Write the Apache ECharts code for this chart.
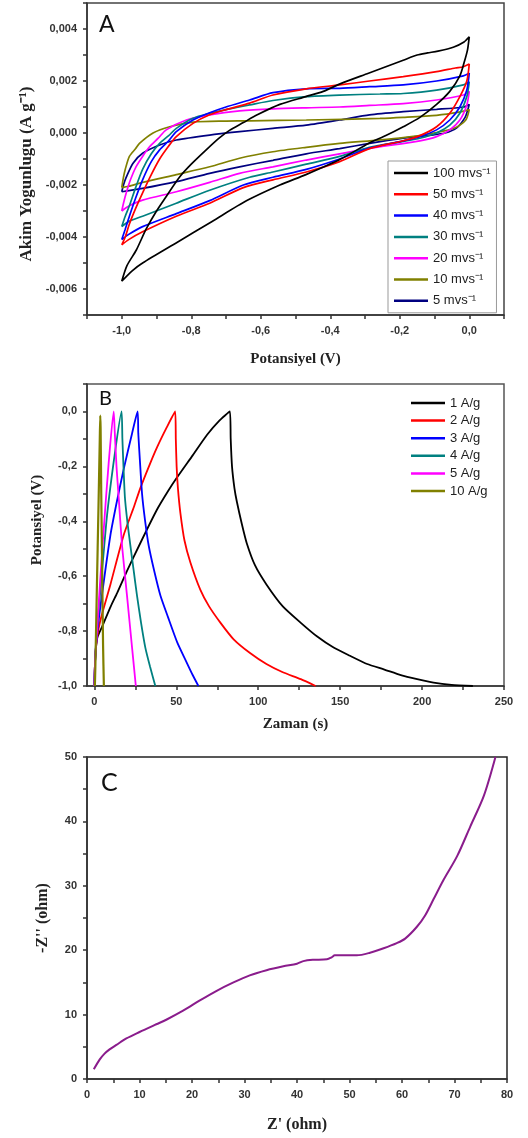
<!DOCTYPE html>
<html><head><meta charset="utf-8">
<script src="https://cdn.jsdelivr.net/npm/echarts@6/dist/echarts.min.js"></script>
<style>html,body{margin:0;padding:0;background:#fff}#c{width:528px;height:1138px}</style>
</head><body><div id="c"></div>
<script>
// ---------- Panel A : cyclic voltammetry loops [potential V, current A/g] ----------
const cvLabels = ['100 mvs\u207B\u00B9','50 mvs\u207B\u00B9','40 mvs\u207B\u00B9','30 mvs\u207B\u00B9','20 mvs\u207B\u00B9','10 mvs\u207B\u00B9','5 mvs\u207B\u00B9'];
const cv100 = [[-1.0,-0.0057],[-0.985,-0.0051],[-0.958,-0.0045],[-0.93,-0.0037],[-0.90,-0.0030],[-0.87,-0.0024],[-0.834,-0.0017],[-0.80,-0.0012],[-0.757,-0.00065],[-0.72,-0.0002],[-0.69,0.0001],[-0.65,0.0004],[-0.61,0.0007],[-0.545,0.0011],[-0.47,0.0014],[-0.42,0.0016],[-0.37,0.0019],[-0.29,0.0023],[-0.24,0.00255],[-0.19,0.0028],[-0.15,0.0030],[-0.12,0.00308],[-0.09,0.00315],[-0.046,0.0033],[-0.015,0.0035],[0.0,0.0037],
  [-0.005,0.0032],[-0.015,0.0027],[-0.027,0.0022],[-0.056,0.0016],[-0.094,0.0011],[-0.142,0.0006],[-0.19,0.00024],[-0.24,-0.0001],[-0.29,-0.0004],[-0.37,-0.001],[-0.47,-0.0016],[-0.545,-0.0020],[-0.64,-0.0026],[-0.74,-0.0034],[-0.84,-0.0042],[-0.94,-0.0050],[-0.97,-0.0053],[-1.0,-0.0057]];
const cv50 = [[-1.0,-0.0043],[-0.99,-0.0040],[-0.978,-0.0035],[-0.96,-0.0029],[-0.94,-0.0023],[-0.915,-0.0016],[-0.891,-0.0010],[-0.865,-0.0005],[-0.843,-0.00014],[-0.795,0.00037],[-0.747,0.0007],[-0.70,0.0009],[-0.632,0.00115],[-0.565,0.00146],[-0.469,0.0017],[-0.373,0.00185],[-0.287,0.002],[-0.19,0.00217],[-0.094,0.00236],[-0.04,0.0025],[-0.017,0.00255],[0.0,0.00265],
  [-0.007,0.002],[-0.027,0.0014],[-0.056,0.00076],[-0.094,0.00024],[-0.142,-0.0001],[-0.19,-0.0003],[-0.287,-0.0006],[-0.373,-0.0011],[-0.469,-0.0015],[-0.565,-0.0018],[-0.65,-0.0021],[-0.747,-0.0027],[-0.843,-0.0032],[-0.94,-0.0038],[-0.98,-0.0041],[-1.0,-0.0043]];
const cv40 = [[-1.0,-0.0041],[-0.99,-0.0037],[-0.978,-0.0032],[-0.96,-0.0025],[-0.94,-0.0018],[-0.915,-0.0011],[-0.891,-0.00065],[-0.865,-0.0003],[-0.843,0.00005],[-0.795,0.0005],[-0.747,0.00078],[-0.70,0.001],[-0.632,0.00127],[-0.565,0.00155],[-0.469,0.0017],[-0.373,0.00172],[-0.287,0.00178],[-0.19,0.00185],[-0.094,0.002],[-0.017,0.0022],[0.0,0.0023],
  [-0.007,0.00165],[-0.027,0.001],[-0.056,0.0005],[-0.094,0.00012],[-0.142,-0.00014],[-0.19,-0.0003],[-0.287,-0.00058],[-0.373,-0.001],[-0.469,-0.0014],[-0.565,-0.0017],[-0.65,-0.002],[-0.747,-0.0026],[-0.843,-0.0031],[-0.94,-0.0036],[-0.98,-0.0039],[-1.0,-0.0041]];
const cv30 = [[-1.0,-0.0036],[-0.99,-0.0032],[-0.978,-0.0028],[-0.96,-0.0021],[-0.94,-0.0014],[-0.915,-0.0008],[-0.891,-0.0004],[-0.865,-0.0001],[-0.843,0.00018],[-0.795,0.00057],[-0.747,0.00076],[-0.70,0.0009],[-0.632,0.00108],[-0.565,0.00125],[-0.469,0.0014],[-0.373,0.00146],[-0.257,0.0015],[-0.19,0.00152],[-0.094,0.00165],[-0.017,0.00185],[0.0,0.00197],
  [-0.007,0.0014],[-0.027,0.00076],[-0.056,0.0003],[-0.094,0.0],[-0.142,-0.0002],[-0.19,-0.00032],[-0.287,-0.00055],[-0.373,-0.0009],[-0.469,-0.0012],[-0.565,-0.0015],[-0.632,-0.0017],[-0.747,-0.0022],[-0.843,-0.0027],[-0.94,-0.0032],[-0.98,-0.0034],[-1.0,-0.0036]];
const cv20 = [[-1.0,-0.0030],[-0.995,-0.0027],[-0.987,-0.0023],[-0.975,-0.0018],[-0.959,-0.0013],[-0.94,-0.0009],[-0.92,-0.00053],[-0.895,-0.0002],[-0.872,0.00012],[-0.814,0.0005],[-0.747,0.0007],[-0.661,0.00085],[-0.565,0.00093],[-0.469,0.00097],[-0.373,0.001],[-0.287,0.00106],[-0.19,0.00113],[-0.094,0.00127],[-0.017,0.00146],[0.0,0.0016],
  [-0.007,0.00108],[-0.027,0.0005],[-0.056,0.00012],[-0.094,-0.00014],[-0.142,-0.0003],[-0.287,-0.00059],[-0.373,-0.0008],[-0.469,-0.00104],[-0.565,-0.0013],[-0.661,-0.00155],[-0.747,-0.0019],[-0.843,-0.00226],[-0.94,-0.00258],[-0.978,-0.0028],[-1.0,-0.0030]];
const cv10 = [[-1.0,-0.0021],[-0.995,-0.0017],[-0.99,-0.0014],[-0.978,-0.0009],[-0.96,-0.0006],[-0.949,-0.0004],[-0.91,0.0],[-0.862,0.00024],[-0.795,0.00042],[-0.70,0.00046],[-0.632,0.00047],[-0.469,0.0005],[-0.257,0.00056],[-0.19,0.0006],[-0.094,0.00068],[-0.03,0.0008],[0.0,0.0009],
  [-0.01,0.0005],[-0.04,0.0002],[-0.094,0.00002],[-0.19,-0.00018],[-0.287,-0.0003],[-0.373,-0.0004],[-0.469,-0.00055],[-0.565,-0.00072],[-0.661,-0.00097],[-0.747,-0.0013],[-0.843,-0.0016],[-0.94,-0.0019],[-0.98,-0.00205],[-1.0,-0.0021]];
const cv5 = [[-1.0,-0.00226],[-0.995,-0.002],[-0.987,-0.0017],[-0.968,-0.00117],[-0.94,-0.00078],[-0.891,-0.00046],[-0.843,-0.00027],[-0.747,-0.00008],[-0.661,0.00005],[-0.565,0.00018],[-0.469,0.0003],[-0.373,0.0005],[-0.287,0.0007],[-0.19,0.00082],[-0.094,0.00091],[-0.017,0.001],[0.0,0.0011],
  [-0.004,0.0009],[-0.012,0.0006],[-0.036,0.0002],[-0.07,0.0],[-0.11,-0.00008],[-0.19,-0.0002],[-0.287,-0.0004],[-0.373,-0.0006],[-0.469,-0.0008],[-0.565,-0.00105],[-0.661,-0.0013],[-0.747,-0.00155],[-0.843,-0.00187],[-0.94,-0.00213],[-1.0,-0.00226]];
const cvSeries = [cv100, cv50, cv40, cv30, cv20, cv10, cv5];

// ---------- Panel B : galvanostatic charge/discharge [time s, potential V] ----------
const gcdLabels = ['1 A/g','2 A/g','3 A/g','4 A/g','5 A/g','10 A/g'];
const gcd1 = [[0,-1.0],[0.3,-0.93],[1,-0.86],[2,-0.82],[5,-0.78],[10,-0.71],[14,-0.66],[20,-0.58],[28,-0.48],[38,-0.36],[45,-0.29],[50.5,-0.24],[60,-0.16],[68.8,-0.085],[76,-0.035],[82.7,0],[83.2,-0.1],[84,-0.2],[85.5,-0.28],[87,-0.33],[90,-0.41],[93,-0.48],[98,-0.56],[105,-0.63],[115,-0.71],[126,-0.77],[136,-0.82],[146,-0.86],[156,-0.89],[166.5,-0.92],[177,-0.94],[187,-0.96],[197,-0.975],[207,-0.988],[218,-0.996],[231,-1.0]];
const gcd2 = [[0,-1.0],[0.5,-0.9],[1.5,-0.83],[3.7,-0.76],[9.8,-0.63],[17.9,-0.45],[24,-0.35],[28,-0.28],[34,-0.19],[38.3,-0.13],[44,-0.06],[49.3,0],[49.7,-0.1],[50.2,-0.2],[51,-0.28],[52.5,-0.37],[55,-0.47],[58.6,-0.55],[64.7,-0.65],[70,-0.71],[77,-0.77],[85,-0.83],[95,-0.88],[105,-0.92],[115,-0.95],[126,-0.975],[135,-1.0]];
const gcd3 = [[0,-1.0],[0.5,-0.9],[1.5,-0.82],[3.7,-0.71],[9.8,-0.45],[14,-0.32],[17.9,-0.21],[23,-0.08],[26.4,0],[26.8,-0.08],[27.8,-0.18],[29.1,-0.3],[31,-0.4],[33.2,-0.49],[36.5,-0.58],[40.3,-0.67],[45,-0.75],[50.5,-0.84],[56,-0.91],[60,-0.96],[63.5,-1.0]];
const gcd4 = [[0,-1.0],[0.5,-0.9],[1.5,-0.8],[3.7,-0.65],[7.7,-0.38],[12.8,-0.14],[16.6,0],[17.1,-0.1],[18.6,-0.31],[20.1,-0.4],[22,-0.49],[24,-0.58],[26,-0.67],[28.5,-0.77],[31.1,-0.86],[34,-0.93],[37.2,-1.0]];
const gcd5 = [[0,-1.0],[0.5,-0.9],[1.6,-0.80],[3.5,-0.62],[5.7,-0.43],[8.7,-0.19],[11.8,0],[12.4,-0.07],[13.5,-0.2],[14.8,-0.31],[16.9,-0.49],[19.9,-0.67],[23,-0.86],[25.3,-1.0]];
const gcd10 = [[0.3,-1.0],[0.6,-0.93],[1.5,-0.65],[2.5,-0.35],[3.3,-0.1],[3.6,-0.015],[3.8,-0.06],[4.2,-0.3],[4.8,-0.6],[5.3,-0.85],[5.8,-1.0]];
const gcdSeries = [gcd1, gcd2, gcd3, gcd4, gcd5, gcd10];

// ---------- Panel C : Nyquist plot [Z' ohm, -Z'' ohm] ----------
const eis = [[1.3,1.5],[2.4,3.0],[3.3,3.9],[4.3,4.6],[5.6,5.3],[7.5,6.3],[10,7.3],[13.2,8.5],[15.1,9.2],[18.3,10.6],[21.5,12.2],[24.7,13.7],[27.9,15.0],[31,16.1],[34.2,16.9],[37.4,17.5],[40,17.9],[41.2,18.3],[43,18.5],[45.7,18.6],[46.6,18.9],[47.2,19.2],[51.4,19.2],[53.9,19.6],[56.5,20.3],[59,21.1],[60.6,21.8],[62.8,23.6],[64.4,25.4],[66,27.9],[67.9,30.9],[70.5,34.6],[73,39.2],[75.6,44.0],[77.8,50.0]];

// tick positions
const cvXTicks = [-1.1,-1.0,-0.9,-0.8,-0.7,-0.6,-0.5,-0.4,-0.3,-0.2,-0.1,0.0,0.1];
const cvXLabels = [-1.0,-0.8,-0.6,-0.4,-0.2,0.0];
const gcdXTicks = [0,25,50,75,100,125,150,175,200,225,250];
const gcdXLabels = [0,50,100,150,200,250];

// ---------- styles ----------
const cvColors = ['#000000','#ff0000','#0000ff','#008080','#ff00ff','#808000','#000080'];
const gcdColors = ['#000000','#ff0000','#0000ff','#008080','#ff00ff','#808000'];
const eisColor = '#8a1c8c';

const lblFont = {fontSize: 11, fontWeight: 'bold', fontFamily: 'Liberation Sans, Arial', color: '#333'};
const nameFont = {fontSize: 15, fontWeight: 'bold', fontFamily: 'Liberation Serif, Times New Roman, serif', color: '#222'};
const axLine = {show: true, onZero: false, lineStyle: {color: '#333', width: 1.5}};
const tick = {show: true, inside: false, length: 4, lineStyle: {color: '#333', width: 1.5}};
function comma(v, d){ return v.toFixed(d).replace('.', ','); }

const chart = echarts.init(document.getElementById('c'), null, {renderer: 'canvas'});

const series = [];
cvSeries.forEach((d, i) => series.push({
  name: cvLabels[i], type: 'line', xAxisIndex: 0, yAxisIndex: 0, data: d,
  symbol: 'none', showSymbol: false, smooth: 0.25, z: 10 - i,
  lineStyle: {color: cvColors[i], width: 1.7}, itemStyle: {color: cvColors[i]}
}));
gcdSeries.forEach((d, i) => series.push({
  name: gcdLabels[i], type: 'line', xAxisIndex: 1, yAxisIndex: 1, data: d,
  symbol: 'none', showSymbol: false, smooth: 0.2,
  lineStyle: {color: gcdColors[i], width: i === 5 ? 2.2 : 1.8}, itemStyle: {color: gcdColors[i]}
}));
series.push({
  name: 'EIS', type: 'line', xAxisIndex: 2, yAxisIndex: 2, data: eis,
  symbol: 'none', showSymbol: false, smooth: 0.3,
  lineStyle: {color: eisColor, width: 2}
});

const legendText = {fontSize: 13, lineHeight: 14, fontFamily: 'Liberation Sans, Arial', color: '#222'};

const option = {
  animation: false,
  backgroundColor: '#fff',
  grid: [
    {left: 87, top: 3, width: 417, height: 312, show: true, borderColor: '#444', borderWidth: 1.5},
    {left: 87, top: 384, width: 417, height: 302, show: true, borderColor: '#555', borderWidth: 1.5},
    {left: 87, top: 757, width: 420, height: 322, show: true, borderColor: '#222', borderWidth: 1.5}
  ],
  xAxis: [
    {gridIndex: 0, type: 'value', min: -1.1, max: 0.1, interval: 0.1,
     axisLine: axLine, axisTick: Object.assign({}, tick, {customValues: cvXTicks}), splitLine: {show: false},
     axisLabel: Object.assign({}, lblFont, {margin: 10, customValues: cvXLabels, formatter: v => { const k = Math.round(v * 10); return (k % 2) ? '' : comma(k / 10, 1); }}),
     name: 'Potansiyel (V)', nameLocation: 'middle', nameGap: 37, nameTextStyle: nameFont},
    {gridIndex: 1, type: 'value', min: -4.5, max: 250,
     axisLine: axLine, axisTick: Object.assign({}, tick, {customValues: gcdXTicks}), splitLine: {show: false},
     axisLabel: Object.assign({}, lblFont, {margin: 10, customValues: gcdXLabels, formatter: v => String(Math.round(v))}),
     name: 'Zaman (s)', nameLocation: 'middle', nameGap: 31, nameTextStyle: nameFont},
    {gridIndex: 2, type: 'value', min: 0, max: 80, interval: 5,
     axisLine: axLine, axisTick: tick, splitLine: {show: false},
     axisLabel: Object.assign({}, lblFont, {margin: 10, formatter: v => (Math.round(v) % 10 ? '' : String(Math.round(v)))}),
     name: "Z' (ohm)", nameLocation: 'middle', nameGap: 38, nameTextStyle: Object.assign({}, nameFont, {fontSize: 16})}
  ],
  yAxis: [
    {gridIndex: 0, type: 'value', min: -0.007, max: 0.005, interval: 0.001,
     axisLine: axLine, axisTick: tick, splitLine: {show: false},
     axisLabel: Object.assign({}, lblFont, {margin: 10, formatter: v => { const k = Math.round(v * 1000); return (k % 2) ? '' : comma(k / 1000, 3); }}),
     name: 'Akim Yogunlugu (A g\u207B\u00B9)', nameLocation: 'middle', nameGap: 52, nameRotate: 90,
     nameTextStyle: Object.assign({}, nameFont, {fontSize: 17, padding: [0, 0, 0, -30]})},
    {gridIndex: 1, type: 'value', min: -1.0, max: 0.1, interval: 0.1,
     axisLine: axLine, axisTick: tick, splitLine: {show: false},
     axisLabel: Object.assign({}, lblFont, {margin: 10, formatter: v => { const k = Math.round(v * 10); return (k % 2) ? '' : comma(k / 10, 1); }}),
     name: 'Potansiyel (V)', nameLocation: 'middle', nameGap: 42, nameRotate: 90,
     nameTextStyle: Object.assign({}, nameFont, {padding: [0, 0, 0, 30]})},
    {gridIndex: 2, type: 'value', min: 0, max: 50, interval: 5,
     axisLine: axLine, axisTick: tick, splitLine: {show: false},
     axisLabel: Object.assign({}, lblFont, {margin: 10, formatter: v => (Math.round(v) % 10 ? '' : String(Math.round(v)))}),
     name: "-Z'' (ohm)", nameLocation: 'middle', nameGap: 36, nameRotate: 90,
     nameTextStyle: Object.assign({}, nameFont, {fontSize: 16})}
  ],
  legend: [
    {data: cvLabels, orient: 'vertical', left: 388, top: 161, icon: 'rect', itemWidth: 34, itemHeight: 2.5, itemGap: 7.3,
     padding: [5, 6, 5, 6], borderColor: '#999', borderWidth: 1, backgroundColor: '#fff',
     textStyle: legendText, selectedMode: false},
    {data: gcdLabels, orient: 'vertical', left: 406, top: 391, icon: 'rect', itemWidth: 34, itemHeight: 2.5, itemGap: 3.6,
     padding: 5, textStyle: legendText, selectedMode: false}
  ],
  graphic: [
    {type: 'text', left: 99, top: 13, style: {text: 'A', fontSize: 23, fontFamily: 'Lato, Liberation Sans', fill: '#111'}},
    {type: 'text', left: 99, top: 389, style: {text: 'B', fontSize: 20, fontFamily: 'Lato, Liberation Sans', fill: '#111'}},
    {type: 'text', left: 101, top: 770, style: {text: 'C', fontSize: 25, fontFamily: 'Lato, Liberation Sans', fill: '#111'}}
  ],
  series: series
};
chart.setOption(option);
</script>
</body></html>
